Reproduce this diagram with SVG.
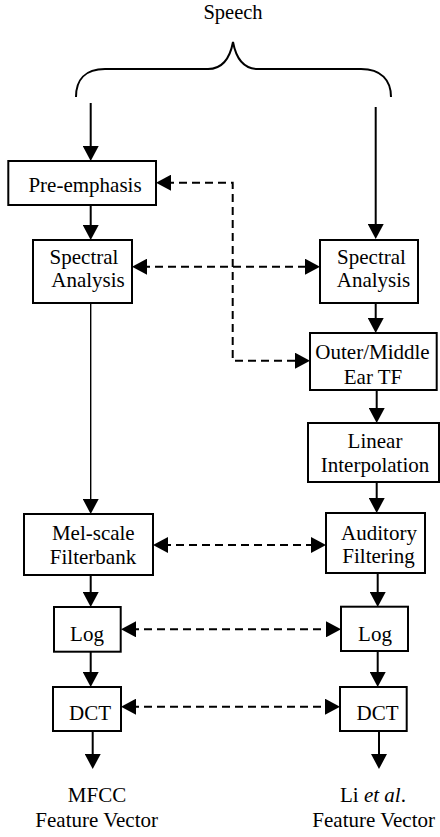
<svg xmlns="http://www.w3.org/2000/svg" width="440" height="837" viewBox="0 0 440 837">
<style>
text{font-family:"Liberation Serif","Times New Roman",serif;font-size:21px;fill:#000;text-anchor:middle}
.box{fill:#fff;stroke:#000;stroke-width:2}
.ln{fill:none;stroke:#000;stroke-width:2}
.thin{fill:none;stroke:#000;stroke-width:1.4}
.dash{fill:none;stroke:#000;stroke-width:2;stroke-dasharray:8 5}
</style>
<defs>
<marker id="ah" viewBox="0 0 15 16" refX="5" refY="8" markerWidth="15" markerHeight="16" markerUnits="userSpaceOnUse" orient="auto-start-reverse">
<path d="M0,0 L15,8 L0,16 z" fill="#000"/>
</marker>
</defs>
<g id="speech">
<text x="233" y="18.5" style="font-size:20.5px">Speech</text>
<path class="ln" d="M76,97 C76,80 85,69 105,69 L208,69 C222,69 230,58 233,42 C236,58 244,69 258,69 L361,69 C381,69 391,80 391,97"/>
</g>
<g id="connectors">
<line class="ln" x1="90.7" y1="103" x2="90.7" y2="151" marker-end="url(#ah)"/>
<line class="ln" x1="375.7" y1="107" x2="375.7" y2="229" marker-end="url(#ah)"/>
<line class="ln" x1="90.7" y1="205" x2="90.7" y2="230" marker-end="url(#ah)"/>
<line class="thin" x1="90.7" y1="303" x2="90.7" y2="504" marker-end="url(#ah)"/>
<line class="ln" x1="375.7" y1="303" x2="375.7" y2="323" marker-end="url(#ah)"/>
<line class="ln" x1="376.7" y1="390" x2="376.7" y2="413" marker-end="url(#ah)"/>
<line class="ln" x1="376.7" y1="482" x2="376.7" y2="503" marker-end="url(#ah)"/>
<line class="ln" x1="90.7" y1="575" x2="90.7" y2="597" marker-end="url(#ah)"/>
<line class="ln" x1="377.7" y1="573" x2="377.7" y2="597" marker-end="url(#ah)"/>
<line class="ln" x1="90.7" y1="652" x2="90.7" y2="677" marker-end="url(#ah)"/>
<line class="ln" x1="377.7" y1="651" x2="377.7" y2="677" marker-end="url(#ah)"/>
<line class="ln" x1="92.7" y1="731" x2="92.7" y2="759" marker-end="url(#ah)"/>
<line class="ln" x1="379" y1="731" x2="379" y2="759" marker-end="url(#ah)"/>
<path class="dash" d="M166,182.7 L232.7,182.7 L232.7,360.7 L300,360.7" marker-start="url(#ah)" marker-end="url(#ah)"/>
<line class="dash" x1="142" y1="266.7" x2="310" y2="266.7" marker-start="url(#ah)" marker-end="url(#ah)"/>
<line class="dash" x1="163" y1="545" x2="316" y2="545" marker-start="url(#ah)" marker-end="url(#ah)"/>
<line class="dash" x1="131" y1="629.3" x2="331" y2="629.3" marker-start="url(#ah)" marker-end="url(#ah)"/>
<line class="dash" x1="131" y1="706.7" x2="330" y2="706.7" marker-start="url(#ah)" marker-end="url(#ah)"/>
</g>
<g id="pre-emphasis">
<rect class="box" x="8.3" y="161" width="147.7" height="44"/>
<text x="85" y="191.5">Pre-emphasis</text>
</g>
<g id="spectral-left">
<rect class="box" x="33" y="240" width="99" height="63"/>
<text x="84" y="264">Spectral</text>
<text x="88" y="287">Analysis</text>
</g>
<g id="spectral-right">
<rect class="box" x="320" y="240" width="98" height="63"/>
<text x="371.5" y="264">Spectral</text>
<text x="373.5" y="287">Analysis</text>
</g>
<g id="outer-middle">
<rect class="box" x="310" y="333" width="126.7" height="57"/>
<text x="372.5" y="359">Outer/Middle</text>
<text x="373" y="384">Ear TF</text>
</g>
<g id="linear">
<rect class="box" x="308" y="423" width="131" height="59"/>
<text x="375" y="448">Linear</text>
<text x="375" y="471.5">Interpolation</text>
</g>
<g id="mel">
<rect class="box" x="24" y="514" width="129" height="61"/>
<text x="93.3" y="540">Mel-scale</text>
<text x="93" y="564">Filterbank</text>
</g>
<g id="auditory">
<rect class="box" x="326" y="513" width="99" height="60"/>
<text x="379" y="540">Auditory</text>
<text x="378.5" y="563">Filtering</text>
</g>
<g id="log-left">
<rect class="box" x="54" y="607" width="66.7" height="44.7"/>
<text x="87" y="641">Log</text>
</g>
<g id="log-right">
<rect class="box" x="341" y="606.7" width="67" height="44.3"/>
<text x="375" y="641">Log</text>
</g>
<g id="dct-left">
<rect class="box" x="53" y="687" width="68" height="44"/>
<text x="90" y="720">DCT</text>
</g>
<g id="dct-right">
<rect class="box" x="340" y="687" width="66.7" height="44"/>
<text x="377.5" y="720">DCT</text>
</g>
<g id="out-left">
<text x="97" y="802">MFCC</text>
<text x="96.7" y="826.7">Feature Vector</text>
</g>
<g id="out-right">
<text x="373" y="802">Li <tspan font-style="italic">et al</tspan>.</text>
<text x="373.7" y="826.7">Feature Vector</text>
</g>
</svg>
